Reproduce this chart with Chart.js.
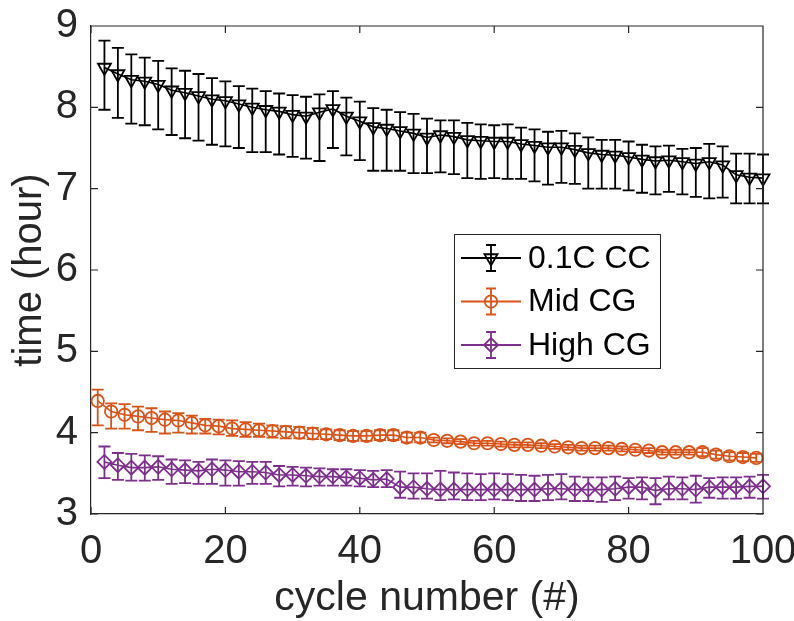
<!DOCTYPE html>
<html>
<head>
<meta charset="utf-8">
<script src="https://cdn.jsdelivr.net/npm/chart.js@4.4.1/dist/chart.umd.min.js"></script>
<style>
html, body { margin: 0; padding: 0; background: #fff; }
#wrap { width: 794px; height: 621px; }
</style>
</head>
<body>
<div id="wrap"><canvas id="cycleChart" width="794" height="621"></canvas></div>
<script>
// cycle numbers
const cycOdd = [1,3,5,7,9,11,13,15,17,19,21,23,25,27,29,31,33,35,37,39,41,43,45,47,49,
  51,53,55,57,59,61,63,65,67,69,71,73,75,77,79,81,83,85,87,89,91,93,95,97,99];
const cycEven = [2,4,6,8,10,12,14,16,18,20,22,24,26,28,30,32,34,36,38,40,42,44,46,48,50,
  52,54,56,58,60,62,64,66,68,70,72,74,76,78,80,82,84,86,88,90,92,94,96,98,100];

// 0.1C CC (hour)
const ccTime = [8.49,8.41,8.34,8.32,8.28,8.21,8.18,8.14,8.10,8.08,8.04,8.00,7.97,7.95,7.91,7.89,
  7.94,7.98,7.89,7.83,7.76,7.74,7.71,7.68,7.63,7.66,7.64,7.60,7.59,7.58,7.58,7.55,7.53,
  7.51,7.51,7.48,7.44,7.42,7.41,7.39,7.36,7.34,7.35,7.33,7.31,7.33,7.29,7.17,7.14,7.13];
const ccHigh = [8.82,8.73,8.65,8.61,8.57,8.48,8.45,8.41,8.36,8.32,8.26,8.23,8.20,8.17,8.15,8.13,
  8.16,8.20,8.12,8.07,7.99,7.97,7.94,7.92,7.86,7.84,7.84,7.81,7.79,7.78,7.79,7.75,7.73,
  7.70,7.71,7.68,7.63,7.60,7.60,7.58,7.54,7.52,7.53,7.49,7.50,7.55,7.52,7.43,7.43,7.42];
const ccLow = [7.97,7.87,7.80,7.78,7.73,7.66,7.62,7.59,7.54,7.52,7.50,7.45,7.45,7.42,7.39,7.37,
  7.34,7.50,7.41,7.35,7.22,7.22,7.22,7.19,7.19,7.20,7.18,7.13,7.12,7.13,7.12,7.12,7.09,
  7.05,7.07,7.06,7.00,7.00,7.00,6.98,6.95,6.93,6.96,6.93,6.90,6.88,6.89,6.82,6.82,6.82];

// Mid CG (hour)
const mgTime = [4.39,4.26,4.22,4.20,4.18,4.16,4.15,4.12,4.09,4.08,4.05,4.04,4.03,4.02,4.01,4.00,3.99,
  3.98,3.97,3.96,3.96,3.97,3.97,3.94,3.94,3.91,3.90,3.89,3.87,3.87,3.86,3.85,3.85,
  3.84,3.83,3.82,3.81,3.81,3.81,3.80,3.79,3.78,3.76,3.76,3.76,3.76,3.73,3.71,3.70,3.69];
const mgHigh = [4.53,4.36,4.35,4.32,4.30,4.26,4.24,4.21,4.17,4.16,4.15,4.13,4.11,4.09,4.08,4.07,4.06,
  4.04,4.03,4.02,4.02,4.03,4.03,4.00,4.00,3.94,3.93,3.92,3.90,3.90,3.89,3.88,3.88,
  3.87,3.86,3.85,3.84,3.84,3.84,3.83,3.82,3.81,3.79,3.79,3.79,3.81,3.78,3.76,3.75,3.74];
const mgLow = [4.09,4.05,4.05,4.03,4.01,3.99,4.00,3.99,3.99,3.98,3.96,3.95,3.95,3.94,3.93,3.93,3.92,
  3.92,3.91,3.90,3.90,3.91,3.91,3.88,3.88,3.88,3.87,3.86,3.84,3.84,3.83,3.82,3.82,
  3.81,3.80,3.79,3.78,3.78,3.78,3.77,3.76,3.75,3.73,3.73,3.73,3.71,3.68,3.66,3.65,3.64];

// High CG (hour)
const hgTime = [3.64,3.60,3.57,3.57,3.58,3.55,3.54,3.53,3.55,3.54,3.52,3.52,3.51,3.48,3.48,3.47,
  3.46,3.46,3.45,3.44,3.42,3.43,3.33,3.33,3.31,3.30,3.30,3.30,3.30,3.30,3.30,3.30,3.30,
  3.31,3.31,3.30,3.30,3.30,3.31,3.33,3.33,3.29,3.31,3.31,3.30,3.33,3.33,3.33,3.34,3.34];
const hgHigh = [3.83,3.75,3.74,3.72,3.71,3.67,3.66,3.64,3.67,3.66,3.65,3.64,3.64,3.59,3.58,3.57,
  3.56,3.55,3.55,3.54,3.53,3.54,3.52,3.50,3.50,3.53,3.51,3.50,3.49,3.50,3.49,3.48,3.47,
  3.48,3.49,3.46,3.45,3.45,3.46,3.44,3.45,3.44,3.46,3.45,3.47,3.44,3.45,3.45,3.46,3.48];
const hgLow = [3.44,3.42,3.41,3.41,3.42,3.37,3.38,3.37,3.37,3.35,3.35,3.37,3.37,3.34,3.35,3.34,
  3.35,3.35,3.35,3.34,3.33,3.33,3.20,3.19,3.19,3.17,3.18,3.17,3.17,3.18,3.17,3.16,3.16,
  3.17,3.18,3.16,3.16,3.15,3.17,3.19,3.18,3.12,3.18,3.18,3.14,3.20,3.19,3.19,3.20,3.19];

const seriesNames = ['0.1C CC', 'Mid CG', 'High CG'];
const xTicks = [0, 20, 40, 60, 80, 100];
const yTicks = [3, 4, 5, 6, 7, 8, 9];

const FONT = 'Liberation Sans, Arial, Helvetica, sans-serif';
const TICK_FONT = '"Liberation Sans Narrow", "Arial Narrow", Liberation Sans, Arial, sans-serif';
const AXIS = '#262626';

function pts(xs, ys) {
  return xs.map((x, i) => ({ x: x, y: ys[i] }));
}

function makeSet(name, xs, ys, lo, hi, color, style, radius, rot) {
  return {
    label: name,
    data: pts(xs, ys),
    errLow: lo,
    errHigh: hi,
    borderColor: color,
    borderWidth: 1.6,
    pointStyle: style,
    pointRadius: radius,
    pointRotation: rot,
    pointBorderColor: color,
    pointBackgroundColor: 'rgba(0,0,0,0)',
    pointBorderWidth: 1.8,
    pointHoverRadius: radius,
    tension: 0,
    fill: false,
    clip: false
  };
}

// error bars drawn behind markers
const errorBars = {
  id: 'errorBars',
  beforeDatasetsDraw(chart) {
    const ctx = chart.ctx;
    const ys = chart.scales.y;
    chart.data.datasets.forEach((ds, di) => {
      const meta = chart.getDatasetMeta(di);
      ctx.save();
      ctx.strokeStyle = ds.borderColor;
      ctx.lineWidth = 1.8;
      meta.data.forEach((p, i) => {
        const yh = ys.getPixelForValue(ds.errHigh[i]);
        const yl = ys.getPixelForValue(ds.errLow[i]);
        ctx.beginPath();
        ctx.moveTo(p.x, yh); ctx.lineTo(p.x, yl);
        ctx.moveTo(p.x - 6, yh); ctx.lineTo(p.x + 6, yh);
        ctx.moveTo(p.x - 6, yl); ctx.lineTo(p.x + 6, yl);
        ctx.stroke();
      });
      ctx.restore();
    });
  }
};

// matlab style box, inner ticks and legend
const boxAndLegend = {
  id: 'boxAndLegend',
  afterDraw(chart) {
    const ctx = chart.ctx;
    const a = chart.chartArea;
    const xs = chart.scales.x, ys = chart.scales.y;
    ctx.save();
    ctx.strokeStyle = AXIS;
    ctx.lineWidth = 1.2;
    ctx.beginPath();
    ctx.moveTo(a.left, a.top); ctx.lineTo(a.right, a.top); ctx.lineTo(a.right, a.bottom);
    xTicks.forEach(v => {
      const px = xs.getPixelForValue(v);
      ctx.moveTo(px, a.bottom); ctx.lineTo(px, a.bottom - 7);
      ctx.moveTo(px, a.top); ctx.lineTo(px, a.top + 7);
    });
    yTicks.forEach(v => {
      const py = ys.getPixelForValue(v);
      ctx.moveTo(a.left, py); ctx.lineTo(a.left + 7, py);
      ctx.moveTo(a.right, py); ctx.lineTo(a.right - 7, py);
    });
    ctx.stroke();

    // legend
    const lx = 454, ly = 234, lw = 206, lh = 134;
    ctx.fillStyle = '#fff';
    ctx.fillRect(lx, ly, lw, lh);
    ctx.lineWidth = 1;
    ctx.strokeRect(lx + 0.5, ly + 0.5, lw, lh);
    chart.data.datasets.forEach((ds, i) => {
      const cy = 258 + i * 43.5;
      const cx = 491;
      ctx.strokeStyle = ds.borderColor;
      ctx.lineWidth = 1.8;
      ctx.beginPath();
      ctx.moveTo(461, cy); ctx.lineTo(521, cy);
      ctx.moveTo(cx, cy - 13); ctx.lineTo(cx, cy + 13);
      ctx.moveTo(cx - 5, cy - 13); ctx.lineTo(cx + 5, cy - 13);
      ctx.moveTo(cx - 5, cy + 13); ctx.lineTo(cx + 5, cy + 13);
      ctx.stroke();
      ctx.fillStyle = 'rgba(0,0,0,0)';
      Chart.helpers.drawPoint(ctx, {
        pointStyle: ds.pointStyle, radius: ds.pointRadius,
        rotation: ds.pointRotation, borderWidth: 1.8
      }, cx, cy);
      ctx.fillStyle = '#000';
      ctx.font = '32px ' + FONT;
      ctx.textBaseline = 'middle';
      ctx.textAlign = 'left';
      ctx.fillText(ds.label, 528, cy + 1);
    });
    ctx.restore();
  }
};

function renderCycleChart() {
  const ctx = document.getElementById('cycleChart').getContext('2d');
  new Chart(ctx, {
    type: 'line',
    data: {
      datasets: [
        makeSet(seriesNames[0], cycEven, ccTime, ccLow, ccHigh, '#000000', 'triangle', 7.5, 180),
        makeSet(seriesNames[1], cycOdd, mgTime, mgLow, mgHigh, '#D95319', 'circle', 6.2, 0),
        makeSet(seriesNames[2], cycEven, hgTime, hgLow, hgHigh, '#7E2F8E', 'rectRot', 7, 0)
      ]
    },
    options: {
      responsive: false,
      animation: false,
      events: [],
      layout: { padding: { top: 26, right: 31, left: 0, bottom: 0 } },
      plugins: { legend: { display: false }, tooltip: { enabled: false } },
      scales: {
        x: {
          type: 'linear', min: 0, max: 100,
          afterFit(s) { s.height = 107; s.paddingLeft = 0; s.paddingRight = 0; },
          afterBuildTicks(s) { s.ticks = xTicks.map(v => ({ value: v })); },
          grid: { display: false, drawTicks: false },
          border: { display: true, color: AXIS, width: 1.2 },
          ticks: { color: AXIS, padding: 14, font: { family: TICK_FONT, size: 40 } },
          title: { display: true, text: 'cycle number (#)', color: AXIS,
            padding: { top: 0, bottom: 2 }, font: { family: FONT, size: 41, lineHeight: 1 } }
        },
        y: {
          min: 3, max: 9,
          afterFit(s) { s.width = 91; s.paddingTop = 0; s.paddingBottom = 0; },
          afterBuildTicks(s) { s.ticks = yTicks.map(v => ({ value: v })); },
          grid: { display: false, drawTicks: false },
          border: { display: true, color: AXIS, width: 1.2 },
          ticks: { color: AXIS, padding: 13, font: { family: TICK_FONT, size: 40 } },
          title: { display: true, text: 'time (hour)', color: AXIS,
            padding: { top: 10, bottom: 0 }, font: { family: FONT, size: 40, lineHeight: 1 } }
        }
      }
    },
    plugins: [errorBars, boxAndLegend]
  });
}

document.addEventListener('DOMContentLoaded', renderCycleChart);
</script>
</body>
</html>
